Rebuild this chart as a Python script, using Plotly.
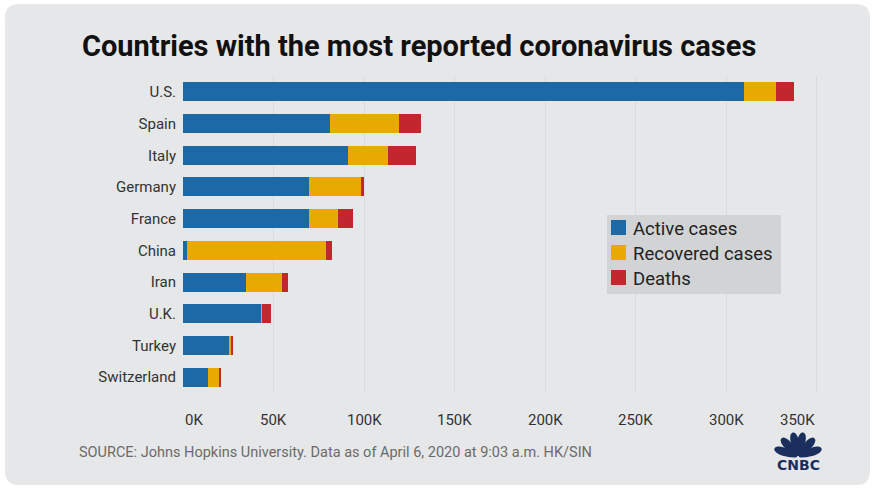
import numpy as np
import plotly.graph_objects as go

countries = ["U.S.", "Spain", "Italy", "Germany", "France", "China", "Iran", "U.K.", "Turkey", "Switzerland"]
active = [310.0, 80.9, 91.2, 69.8, 69.3, 2.0, 34.9, 43.4, 25.5, 14.0]
recovered = [17.5, 38.1, 21.8, 28.7, 16.3, 77.2, 19.7, 0.3, 1.0, 6.4]
deaths = [9.6, 12.6, 15.9, 1.6, 8.1, 3.3, 3.6, 4.9, 0.6, 0.7]
series_names = ["Active cases", "Recovered cases", "Deaths"]
colors = ["#1d69a6", "#e8a900", "#c1272d"]
tick_vals = [0, 50, 100, 150, 200, 250, 300, 350]
tick_text = ["0K", "50K", "100K", "150K", "200K", "250K", "300K", "350K"]

W, H = 873, 488
L, R, T, B = 183, 47, 76, 95
PW, PH = W - L - R, H - T - B


def px(x):
    return (x - L) / PW


def py(y):
    return (H - B - y) / PH


fig = go.Figure()
for name, vals, col in zip(series_names, [active, recovered, deaths], colors):
    fig.add_trace(go.Bar(
        y=countries, x=vals, name=name, orientation="h",
        marker=dict(color=col, line=dict(width=0)), width=0.6,
        hoverinfo="x+y+name", showlegend=False,
    ))

# card background with rounded corners
x0, y0, x1, y1, r = 5, 4, 870, 485, 14
card = (f"M{px(x0+r)},{py(y0)} L{px(x1-r)},{py(y0)} Q{px(x1)},{py(y0)} {px(x1)},{py(y0+r)} "
        f"L{px(x1)},{py(y1-r)} Q{px(x1)},{py(y1)} {px(x1-r)},{py(y1)} "
        f"L{px(x0+r)},{py(y1)} Q{px(x0)},{py(y1)} {px(x0)},{py(y1-r)} "
        f"L{px(x0)},{py(y0+r)} Q{px(x0)},{py(y0)} {px(x0+r)},{py(y0)} Z")
shapes = [dict(type="path", xref="paper", yref="paper", path=card,
               fillcolor="#e6e7e8", line=dict(width=0), layer="below")]

annotations = []

# legend box (drawn to match the original's compact layout)
shapes.append(dict(type="rect", xref="paper", yref="paper", x0=px(607), x1=px(781),
                   y0=py(294), y1=py(215), fillcolor="#d2d3d5", line=dict(width=0)))
for i, (name, col) in enumerate(zip(series_names, colors)):
    yc = 227.5 + 25 * i
    shapes.append(dict(type="rect", xref="paper", yref="paper", x0=px(611), x1=px(626),
                       y0=py(yc + 7.5), y1=py(yc - 7.5), fillcolor=col, line=dict(width=0)))
    annotations.append(dict(text=name, xref="paper", yref="paper", x=px(631), y=py(yc + 1),
                            xanchor="left", yanchor="middle", showarrow=False,
                            font=dict(family="Roboto", size=18.5, color="#222222")))

# CNBC peacock logo (decorative)
cx, cy = 798, 457
angles = [160, 131, 102, 78, 49, 20]
for a in angles:
    th = np.radians(a)
    t = np.linspace(0, 2 * np.pi, 32)
    lx = 13 + 12 * np.cos(t)
    ly = 5.2 * np.sin(t) * (0.5 + 0.5 * (1 + np.cos(t)) / 2)
    X = cx + lx * np.cos(th) - ly * np.sin(th)
    Y = cy - (lx * np.sin(th) + ly * np.cos(th))
    p = "M" + " L".join(f"{px(a_)},{py(b_)}" for a_, b_ in zip(X, Y)) + " Z"
    shapes.append(dict(type="path", xref="paper", yref="paper", path=p,
                       fillcolor="#1b2f5e", line=dict(width=0)))

annotations += [
    dict(text="<b>Countries with the most reported coronavirus cases</b>", xref="paper", yref="paper",
         x=px(80), y=py(46), xanchor="left", yanchor="middle", showarrow=False,
         font=dict(family="Roboto", size=29, color="#111111")),
    dict(text="SOURCE: Johns Hopkins University. Data as of April 6, 2020 at 9:03 a.m. HK/SIN",
         xref="paper", yref="paper", x=px(77), y=py(452), xanchor="left", yanchor="middle",
         showarrow=False, font=dict(family="Roboto", size=14.5, color="#6b6b6b")),
    dict(text="<b>CNBC</b>", xref="paper", yref="paper", x=px(798), y=py(465),
         xanchor="center", yanchor="middle", showarrow=False,
         font=dict(family="DejaVu Sans", size=14, color="#1b2f5e")),
]
for i, (v, t) in enumerate(zip(tick_vals, tick_text)):
    anchor = "left" if i == 0 else ("right" if i == len(tick_vals) - 1 else "center")
    annotations.append(dict(text=t, xref="x", yref="paper", x=v, y=0, yshift=-27,
                            xanchor=anchor, yanchor="middle", showarrow=False,
                            font=dict(family="Roboto", size=15, color="#333333")))

fig.update_layout(
    width=W, height=H, barmode="stack", showlegend=False,
    margin=dict(l=L, r=R, t=T, b=B, pad=0),
    paper_bgcolor="#ffffff", plot_bgcolor="rgba(0,0,0,0)",
    font=dict(family="Roboto", color="#333333"),
    xaxis=dict(range=[0, 355], tickvals=tick_vals, showticklabels=False, showgrid=True,
               gridcolor="#d9dadc", gridwidth=1, zeroline=False, showline=False, fixedrange=True),
    yaxis=dict(categoryorder="array", categoryarray=countries, autorange="reversed",
               showgrid=False, zeroline=False, showline=False, ticks="",
               ticklabelstandoff=6, tickfont=dict(family="Roboto", size=15, color="#333333")),
    shapes=shapes, annotations=annotations, bargap=0.4,
)

fig.write_html("out.html", post_script="document.body.style.margin='0';",
               config={"displayModeBar": False})
